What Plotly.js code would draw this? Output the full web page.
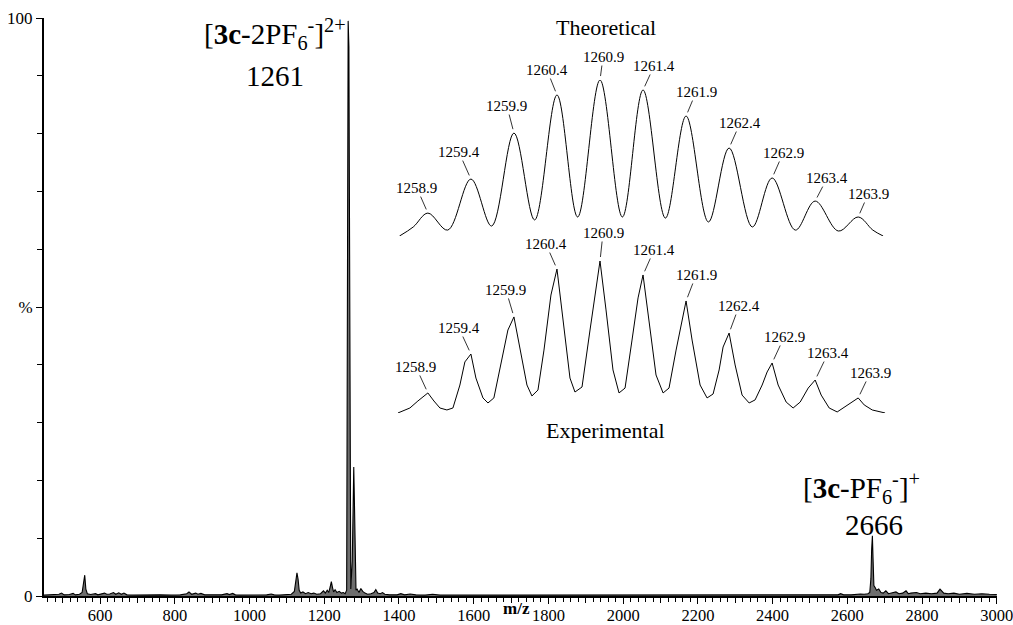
<!DOCTYPE html>
<html>
<head>
<meta charset="utf-8">
<script src="https://cdn.plot.ly/plotly-3.0.1.min.js"></script>
<style>html,body{margin:0;padding:0;background:#fff;}#chart{width:1013px;height:625px;}</style>
</head>
<body>
<div id="chart"></div>
<script>
// ---- Main spectrum (m/z vs relative intensity %) ----
const mz = [
  450, 462, 475, 490, 497, 504, 518, 528, 534, 545,
  552, 556, 559, 562, 566, 575, 588, 594, 602, 612,
  618, 626, 636, 642, 650, 657, 664, 672, 690, 710,
  730, 760, 790, 815, 832, 838, 845, 856, 862, 870,
  880, 900, 925, 940, 946, 955, 962, 975, 1000, 1025,
  1040, 1046, 1058, 1066, 1080, 1100, 1112, 1120, 1124, 1127,
  1130, 1133, 1137, 1143, 1150, 1157, 1165, 1172, 1180, 1190,
  1198, 1203, 1208, 1212, 1216, 1219, 1222, 1225, 1229, 1234,
  1240, 1246, 1251, 1256, 1260, 1262, 1264, 1266, 1268, 1271,
  1275, 1277, 1279, 1281, 1283, 1285, 1288, 1293, 1298, 1303,
  1309, 1316, 1325, 1333, 1338, 1343, 1350, 1356, 1362, 1375,
  1395, 1405, 1415, 1430, 1445, 1470, 1490, 1510, 1550, 1600,
  1700, 1800, 1900, 2000, 2100, 2200, 2300, 2400, 2500, 2560,
  2575, 2582, 2590, 2610, 2625, 2635, 2645, 2655, 2660, 2663,
  2665, 2667, 2669, 2671, 2674, 2678, 2684, 2690, 2696, 2703,
  2710, 2720, 2730, 2738, 2748, 2757, 2763, 2770, 2785, 2795,
  2810, 2825, 2840, 2848, 2852, 2858, 2870, 2885, 2900, 2920,
  2940, 2960, 2980, 3000
];
const intensity = [
  0.15, 0.2, 0.15, 0.3, 0.5, 0.2, 0.25, 0.45, 0.2, 0.3,
  0.6, 2.5, 3.6, 1.2, 0.4, 0.25, 0.4, 0.2, 0.3, 0.5,
  0.3, 0.35, 0.6, 0.3, 0.55, 0.3, 0.5, 0.2, 0.15, 0.2,
  0.15, 0.2, 0.15, 0.2, 0.4, 0.7, 0.3, 0.5, 0.3, 0.45,
  0.2, 0.15, 0.2, 0.4, 0.25, 0.45, 0.2, 0.15, 0.2, 0.15,
  0.3, 0.2, 0.35, 0.2, 0.15, 0.2, 0.3, 0.8, 2.5, 4.0,
  2.9, 1.0, 0.5, 0.7, 0.4, 0.6, 0.4, 0.5, 0.3, 0.4,
  0.9, 0.5, 1.0, 0.6, 1.6, 2.5, 1.5, 0.7, 1.1, 0.6,
  0.8, 0.5, 0.6, 0.4, 1.0, 60, 99.5, 95, 40, 1.2,
  6, 14, 22.3, 15.5, 4, 1.0, 1.2, 0.6, 1.3, 0.8,
  0.5, 0.3, 0.4, 0.6, 1.1, 0.5, 0.4, 0.6, 0.3, 0.2,
  0.2, 0.4, 0.2, 0.35, 0.2, 0.15, 0.3, 0.15, 0.15, 0.15,
  0.15, 0.15, 0.15, 0.15, 0.15, 0.15, 0.15, 0.15, 0.15, 0.15,
  0.2, 0.4, 0.2, 0.2, 0.3, 0.35, 0.3, 0.4, 0.6, 3,
  8, 10.4, 6, 1.8, 1.5, 1.0, 1.2, 0.6, 0.5, 0.9,
  0.4, 0.5, 0.7, 0.4, 0.5, 0.9, 0.4, 0.5, 0.6, 0.4,
  0.5, 0.4, 0.5, 1.2, 0.9, 0.5, 0.4, 0.5, 0.3, 0.45,
  0.3, 0.4, 0.3, 0.25
];

// Axis ticks: labelled ticks, plus unlabelled intermediate ticks
const xTickVals = [600, 800, 1000, 1200, 1400, 1600, 1800, 2000, 2200, 2400, 2600, 2800, 3000];
const xTickText = ['600', '800', '1000', '1200', '1400', '1600', '1800', '2000', '2200', '2400', '2600', '2800', '3000'];
const xMidTicks = [500, 700, 900, 1100, 1300, 1500, 1700, 1900, 2100, 2300, 2500, 2700, 2900];
const yTickVals = [0, 50, 100];
const yTickText = ['0', '%', '100'];
const yMidTicks = [10, 20, 30, 40, 60, 70, 80, 90];

// ---- Isotope pattern insets ----
const isoLabels = ['1258.9', '1259.4', '1259.9', '1260.4', '1260.9', '1261.4', '1261.9', '1262.4', '1262.9', '1263.4', '1263.9'];

const theoMz = [1258.57, 1258.73, 1258.9, 1259.13, 1259.4, 1259.64, 1259.9, 1260.14, 1260.4, 1260.64, 1260.9, 1261.16, 1261.4, 1261.66, 1261.9, 1262.16, 1262.4, 1262.67, 1262.9, 1263.17, 1263.4, 1263.67, 1263.9, 1264.07, 1264.19];
const theoInt = [0, 5.8, 14.7, 3.8, 36.5, 6.4, 66.0, 10.3, 90.4, 12.2, 100, 12.2, 93.6, 11.5, 76.9, 9.0, 56.4, 5.8, 37.2, 3.8, 22.4, 3.2, 12.2, 3.8, 0];
const theoPeakInt = [14.7, 36.5, 66.0, 90.4, 100, 93.6, 76.9, 56.4, 37.2, 22.4, 12.2];

const expMz = [
  1258.551, 1258.691, 1258.784, 1258.9, 1258.970, 1259.040, 1259.121, 1259.191, 1259.272, 1259.330,
  1259.4, 1259.458, 1259.540, 1259.598, 1259.667, 1259.749, 1259.830, 1259.9, 1259.970, 1260.051,
  1260.109, 1260.179, 1260.249, 1260.330, 1260.4, 1260.470, 1260.551, 1260.609, 1260.691, 1260.784,
  1260.9, 1260.970, 1261.051, 1261.121, 1261.191, 1261.272, 1261.342, 1261.4, 1261.470, 1261.551,
  1261.633, 1261.702, 1261.784, 1261.853, 1261.9, 1261.970, 1262.063, 1262.144, 1262.214, 1262.284,
  1262.330, 1262.4, 1262.470, 1262.551, 1262.633, 1262.702, 1262.784, 1262.842, 1262.9, 1262.970,
  1263.063, 1263.144, 1263.226, 1263.319, 1263.4, 1263.470, 1263.563, 1263.656, 1263.726, 1263.807,
  1263.9, 1263.970, 1264.063, 1264.214
];
const expInt = [
  0, 3.3, 7.9, 13.2, 7.9, 3.3, 2.0, 3.3, 18.4, 33.6,
  38.8, 23.0, 9.9, 6.6, 9.9, 31.6, 54.6, 63.2, 41.4, 18.4,
  11.2, 15.1, 41.4, 77.6, 94.7, 61.2, 23.0, 13.8, 17.1, 54.6,
  100, 67.8, 28.3, 13.2, 16.4, 48.0, 75.7, 90.8, 61.2, 25.0,
  13.2, 16.4, 41.4, 61.2, 73.7, 48.0, 18.4, 9.9, 12.5, 28.3,
  43.4, 52.6, 31.6, 11.8, 6.6, 8.6, 18.4, 27.0, 32.9, 18.4,
  7.2, 3.3, 7.2, 16.4, 21.7, 11.8, 3.3, 0.7, 3.3, 6.6,
  9.9, 5.3, 2.0, 0
];
const expPeakInt = [13.2, 38.8, 63.2, 94.7, 100, 90.8, 73.7, 52.6, 32.9, 21.7, 9.9];

// label offsets (pixels) for the leader lines
const theoAx = [-11, -12, -7, -10, 3, 11, 10, 11, 11, 12, 10];
const theoAy = [-25, -27, -27, -25, -23, -24, -24, -25, -25, -23, -23];
const expAx = [-12, -12, -8, -11, 3, 11, 10, 10, 12, 13, 12];
const expAy = [-26, -26, -27, -25, -28, -25, -26, -27, -26, -27, -25];

const FONT = 'Liberation Serif';
const XRANGE = [450, 3000.5];

const traces = [
  {
    x: mz, y: intensity, type: 'scatter', mode: 'lines',
    line: {color: '#000', width: 1.1}, fill: 'tozeroy', fillcolor: '#6e6e6e',
    xaxis: 'x', yaxis: 'y', hoverinfo: 'skip'
  },
  {
    x: theoMz, y: theoInt, type: 'scatter', mode: 'lines',
    line: {color: '#000', width: 1, shape: 'spline', smoothing: 1},
    xaxis: 'x2', yaxis: 'y2', hoverinfo: 'skip'
  },
  {
    x: expMz, y: expInt, type: 'scatter', mode: 'lines',
    line: {color: '#000', width: 1},
    xaxis: 'x3', yaxis: 'y3', hoverinfo: 'skip'
  },
  {
    // carrier for the unlabelled intermediate tick axes
    x: [mz[0]], y: [intensity[0]], type: 'scatter', mode: 'lines',
    line: {color: 'rgba(0,0,0,0)', width: 0},
    xaxis: 'x4', yaxis: 'y4', hoverinfo: 'skip'
  }
];

const annotations = [];
const peakMz = isoLabels.map(Number);
for (let i = 0; i < isoLabels.length; i++) {
  annotations.push({
    xref: 'x2', yref: 'y2', x: peakMz[i], y: theoPeakInt[i], text: isoLabels[i],
    showarrow: true, arrowhead: 0, arrowwidth: 0.8, arrowcolor: '#000',
    ax: theoAx[i], ay: theoAy[i], standoff: 4, borderpad: 0,
    font: {family: FONT, size: 15, color: '#000'}
  });
  annotations.push({
    xref: 'x3', yref: 'y3', x: peakMz[i], y: expPeakInt[i], text: isoLabels[i],
    showarrow: true, arrowhead: 0, arrowwidth: 0.8, arrowcolor: '#000',
    ax: expAx[i], ay: expAy[i], standoff: 4, borderpad: 0,
    font: {family: FONT, size: 15, color: '#000'}
  });
}
const txt = (text, x, y, size) => ({
  xref: 'paper', yref: 'paper', x: x, y: y, text: text, showarrow: false,
  xanchor: 'center', yanchor: 'middle', font: {family: FONT, size: size, color: '#000'}
});
annotations.push(txt('Theoretical', 0.5895, 0.984, 22));
annotations.push(txt('Experimental', 0.5895, 0.287, 22));
annotations.push(txt('[<b>3c</b>-2PF<sub>6</sub><sup>-</sup>]<sup>2+</sup>', 0.2419, 0.972, 29));
annotations.push(txt('1261', 0.2419, 0.900, 29));
annotations.push(txt('[<b>3c</b>-PF<sub>6</sub><sup>-</sup>]<sup>+</sup>', 0.8576, 0.186, 29));
annotations.push(txt('2666', 0.8712, 0.122, 29));
annotations.push(txt('<b>m/z</b>', 0.4963, -0.021, 17));

const insetXDomain = [0.3713, 0.8827];
const insetXRange = [1258.551, 1264.214];

const layout = {
  width: 1013, height: 625,
  margin: {l: 44, r: 16, t: 18, b: 29},
  paper_bgcolor: '#fff', plot_bgcolor: '#fff',
  showlegend: false,
  font: {family: FONT, color: '#000'},
  xaxis: {
    range: XRANGE, showline: true, linewidth: 2, linecolor: '#000',
    ticks: 'outside', ticklen: 6, tickwidth: 1, tickcolor: '#000',
    tickmode: 'array', tickvals: xTickVals, ticktext: xTickText,
    tickfont: {family: FONT, size: 16.5, color: '#000'},
    ticklabelstandoff: -3, ticklabeloverflow: 'allow',
    showgrid: false, zeroline: false,
    minor: {ticks: 'outside', ticklen: 4, tickwidth: 1, tickcolor: '#000', dtick: 20, tick0: 0, showgrid: false}
  },
  yaxis: {
    range: [0, 100], showline: true, linewidth: 2, linecolor: '#000',
    ticks: 'outside', ticklen: 6, tickwidth: 1, tickcolor: '#000',
    tickmode: 'array', tickvals: yTickVals, ticktext: yTickText,
    tickfont: {family: FONT, size: 17, color: '#000'},
    showgrid: false, zeroline: false
  },
  xaxis4: {
    overlaying: 'x', anchor: 'y', side: 'bottom', range: XRANGE,
    showline: false, showgrid: false, zeroline: false, showticklabels: false,
    ticks: 'outside', ticklen: 6, tickwidth: 1, tickcolor: '#000',
    tickmode: 'array', tickvals: xMidTicks
  },
  yaxis4: {
    overlaying: 'y', anchor: 'x', side: 'left', range: [0, 100],
    showline: false, showgrid: false, zeroline: false, showticklabels: false,
    ticks: 'outside', ticklen: 6, tickwidth: 1, tickcolor: '#000',
    tickmode: 'array', tickvals: yMidTicks
  },
  xaxis2: {domain: insetXDomain, range: insetXRange, anchor: 'y2', visible: false},
  yaxis2: {domain: [0.6228, 0.8927], range: [0, 100], anchor: 'x2', visible: false},
  xaxis3: {domain: insetXDomain, range: insetXRange, anchor: 'y3', visible: false},
  yaxis3: {domain: [0.3166, 0.5796], range: [0, 100], anchor: 'x3', visible: false},
  annotations: annotations
};

Plotly.newPlot('chart', traces, layout, {staticPlot: true, displayModeBar: false});
</script>
</body>
</html>
